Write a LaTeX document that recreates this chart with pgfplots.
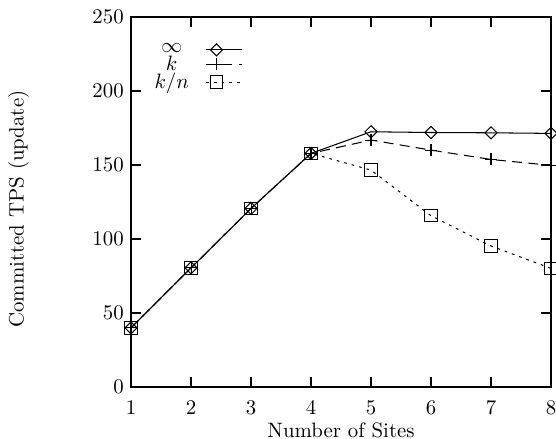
\documentclass[border=0pt]{standalone}
\usepackage{pgfplots}
\pgfplotsset{compat=1.18}

% values
\pgfplotstableread{
x inf   k      kn
1 40.0  40.0   40.0
2 80.5  80.5   80.5
3 120.7 120.7  120.7
4 157.9 157.9  157.9
5 172.5 166.9  146.6
6 172.0 160.1  115.8
7 171.8 153.8  95.3
8 171.4 149.8  80.2
}\tps

\begin{document}
\begin{tikzpicture}
\begin{axis}[
    scale only axis,
    width=201.6pt, height=177.6pt,
    xmin=1, xmax=8, ymin=0, ymax=250,
    xtick={1,2,...,8}, ytick={0,50,...,250},
    tick align=inside,
    major tick length=4.8pt,
    axis line style={line width=0.9pt},
    every tick/.style={black, line width=0.9pt},
    xticklabel style={yshift=-3pt},
    xlabel={Number of Sites},
    ylabel={Committed TPS (update)},
    every axis x label/.style={at={(axis description cs:0.5,-0.116)}, anchor=center},
    every axis y label/.style={at={(axis description cs:-0.268,0.481)}, anchor=center, rotate=90},
    clip=false,
    legend plot pos=right,
    legend cell align=center,
    legend image code/.code={
        \path (0pt,0pt);
        \draw[mark repeat=2, mark phase=2, #1]
            plot coordinates {(6pt,0pt) (11pt,0pt) (23pt,0pt)};},
    legend style={draw=none, fill=none, inner sep=0pt,
        at={(rel axis cs:0.045,0.94)}, anchor=north west,
        row sep=-4.2pt},
]
\addplot[black, line width=0.5pt, mark=square, mark size=2.05pt,
    mark options={rotate=45, solid}] table[x=x, y=inf] {\tps};
\addlegendentry{$\infty$}
\addplot[black, line width=0.5pt, dash pattern=on 4.8pt off 3pt,
    mark=+, mark size=2.9pt, mark options={solid}] table[x=x, y=k] {\tps};
\addlegendentry{$k$}
\addplot[black, line width=0.5pt, dash pattern=on 1.3pt off 2.4pt,
    mark=square, mark size=3pt, mark options={solid}] table[x=x, y=kn] {\tps};
\addlegendentry{$k/n$}
\end{axis}
\pgfresetboundingbox
\path (-62.9pt,-24.5pt) rectangle (204pt,185.8pt);
\end{tikzpicture}
\end{document}
